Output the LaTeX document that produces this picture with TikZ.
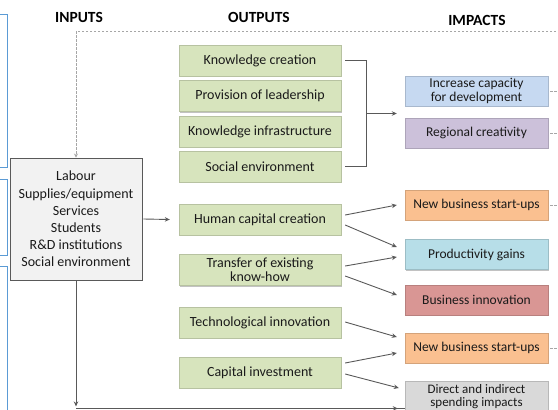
\documentclass[tikz,border=0pt]{standalone}
\usepackage{fontspec}
\setmainfont{Carlito}
\usetikzlibrary{calc,shadows,arrows.meta}
\definecolor{gfill}{HTML}{D7E4BD}
\definecolor{icfill}{HTML}{C6D9F1}
\definecolor{rcfill}{HTML}{CCC1DA}
\definecolor{nbfill}{HTML}{FAC090}
\definecolor{pgfill}{HTML}{B7DEE8}
\definecolor{bifill}{HTML}{D99694}
\definecolor{difill}{HTML}{D9D9D9}
\definecolor{infill}{HTML}{F2F2F2}
\definecolor{lgrey}{HTML}{595959}
\definecolor{dgrey}{HTML}{A6A6A6}
\definecolor{bluel}{HTML}{5B9BD5}
\definecolor{txt}{HTML}{1A1A1A}
\tikzset{
  x=1pt, y=-1pt,
  every node/.style={font=\fontsize{14}{16}\selectfont, text=txt},
  boxbase/.style={rectangle, align=center, inner sep=2pt,
    drop shadow={shadow xshift=0.8pt, shadow yshift=-1.4pt, fill=black!40, opacity=0.6}},
  outbox/.style={boxbase, fill=gfill, draw=gfill!85!black, line width=0.4pt,
    minimum width=162pt, minimum height=31pt},
  impbox/.style={boxbase, draw=#1!85!black, line width=0.4pt, fill=#1,
    minimum width=143pt, minimum height=30pt},
  head/.style={font=\fontsize{15.5}{17}\selectfont\bfseries, text=black},
  conn/.style={draw=lgrey, line width=0.9pt, -{Stealth[length=5pt,width=4.5pt]}},
  connl/.style={draw=lgrey, line width=0.9pt},
  dashl/.style={draw=dgrey, line width=0.8pt, dash pattern=on 2.5pt off 1.5pt},
}
\begin{document}
\begin{tikzpicture}
\useasboundingbox (0,0) rectangle (558,410);
% left cropped blue boxes
\draw[bluel, line width=0.7pt] (-10,14) rectangle (7,167);
\draw[bluel, line width=0.7pt] (-10,179) rectangle (7,255);
\draw[bluel, line width=0.7pt] (-10,266) rectangle (7,430);

% headings
\node[head] (hin) at (79,17) {INPUTS};
\node[head] (hout) at (259,17) {OUTPUTS};
\node[head] (himp) at (477,20) {IMPACTS};

% input box
\node[boxbase, fill=infill, draw=lgrey, line width=0.9pt, minimum width=132pt, minimum height=122pt,
  font=\fontsize{14}{17.2}\selectfont] (inp) at (76,219)
  {Labour\\Supplies/equipment\\Services\\Students\\R\&D institutions\\Social environment};

% outputs
\node[outbox] (kc) at (260,60.5) {Knowledge creation};
\node[outbox] (pl) at (260,96) {Provision of leadership};
\node[outbox] (ki) at (260,131.5) {Knowledge infrastructure};
\node[outbox] (se) at (260,166.5) {Social environment};
\node[outbox] (hc) at (260,219.5) {Human capital creation};
\node[outbox, font=\fontsize{14}{14}\selectfont] (tk) at (260,270) {Transfer of existing\\know-how};
\node[outbox] (ti) at (260,322.5) {Technological innovation};
\node[outbox] (ci) at (260,372.5) {Capital investment};

% impacts
\node[impbox=icfill, font=\fontsize{13.5}{14}\selectfont] (ic) at (476.5,91) {Increase capacity\\for development};
\node[impbox=rcfill, font=\fontsize{13.5}{16}\selectfont] (rc) at (476.5,133) {Regional creativity};
\node[impbox=nbfill, font=\fontsize{13.5}{16}\selectfont] (nb1) at (476.5,205) {New business start-ups};
\node[impbox=pgfill, font=\fontsize{13.5}{16}\selectfont] (pg) at (476.5,254.5) {Productivity gains};
\node[impbox=bifill, font=\fontsize{13.5}{16}\selectfont] (bi) at (476.5,300) {Business innovation};
\node[impbox=nbfill, font=\fontsize{13.5}{16}\selectfont] (nb2) at (476.5,348) {New business start-ups};
\node[impbox=difill, minimum height=32pt, inner ysep=1pt, font=\fontsize{13}{13}\selectfont] (di) at (476.5,397) {Direct and indirect\\spending impacts};

% dashed feedback
\coordinate (dtop) at (560,31);
\draw[dashl, -{Stealth[length=4pt,width=4pt]}] (dtop) -| (inp.north);
\draw[dashl] ([xshift=2pt]ic.east) -- ++(12,0);
\draw[dashl] ([xshift=2pt]rc.east) -- ++(12,0);
\draw[dashl] ([xshift=2pt]nb1.east) -- ++(12,0);
\draw[dashl] ([xshift=2pt]nb2.east) -- ++(12,0);

% bracket
\draw[connl] ([xshift=4pt]kc.east) -- ++(21,0) coordinate (bt) |- ([xshift=4pt]se.east) coordinate (bb);
\coordinate (bm) at ($(bt)!0.5!(bt |- bb)$);
\draw[conn] (bm) -- ([xshift=-8pt]bm -| ic.west);

% input to outputs
\draw[conn] ([xshift=1pt]inp.east) -- ([xshift=-9pt]hc.west);
\draw[conn] (inp.south) -- ([yshift=-126pt]inp.south);
\draw[connl] ([yshift=-128pt]inp.south) coordinate (bl) -- (bl -| di.west);
\draw[conn] (bl) -- ([xshift=-7pt]bl -| di.west);

% outputs to impacts
\draw[conn] ([xshift=4pt,yshift=4.5pt]hc.east) -- ([xshift=-8pt]nb1.west);
\draw[conn] ([xshift=4pt,yshift=-5.5pt]hc.east) -- ([xshift=-8pt,yshift=7.5pt]pg.west);
\draw[conn] ([xshift=4pt,yshift=4pt]tk.east) -- ([xshift=-8pt,yshift=-2.5pt]pg.west);
\draw[conn] ([xshift=4pt,yshift=-6pt]tk.east) -- ([xshift=-8pt,yshift=5pt]bi.west);
\draw[conn] ([xshift=4pt,yshift=0.5pt]ti.east) -- ([xshift=-8pt,yshift=11pt]nb2.west);
\draw[conn] ([xshift=4pt,yshift=9.5pt]ci.east) -- ([xshift=-8pt,yshift=-5pt]nb2.west);
\draw[conn] ([xshift=4pt,yshift=-1.5pt]ci.east) -- ([xshift=-6pt,yshift=9pt]di.west);
\end{tikzpicture}
\end{document}
